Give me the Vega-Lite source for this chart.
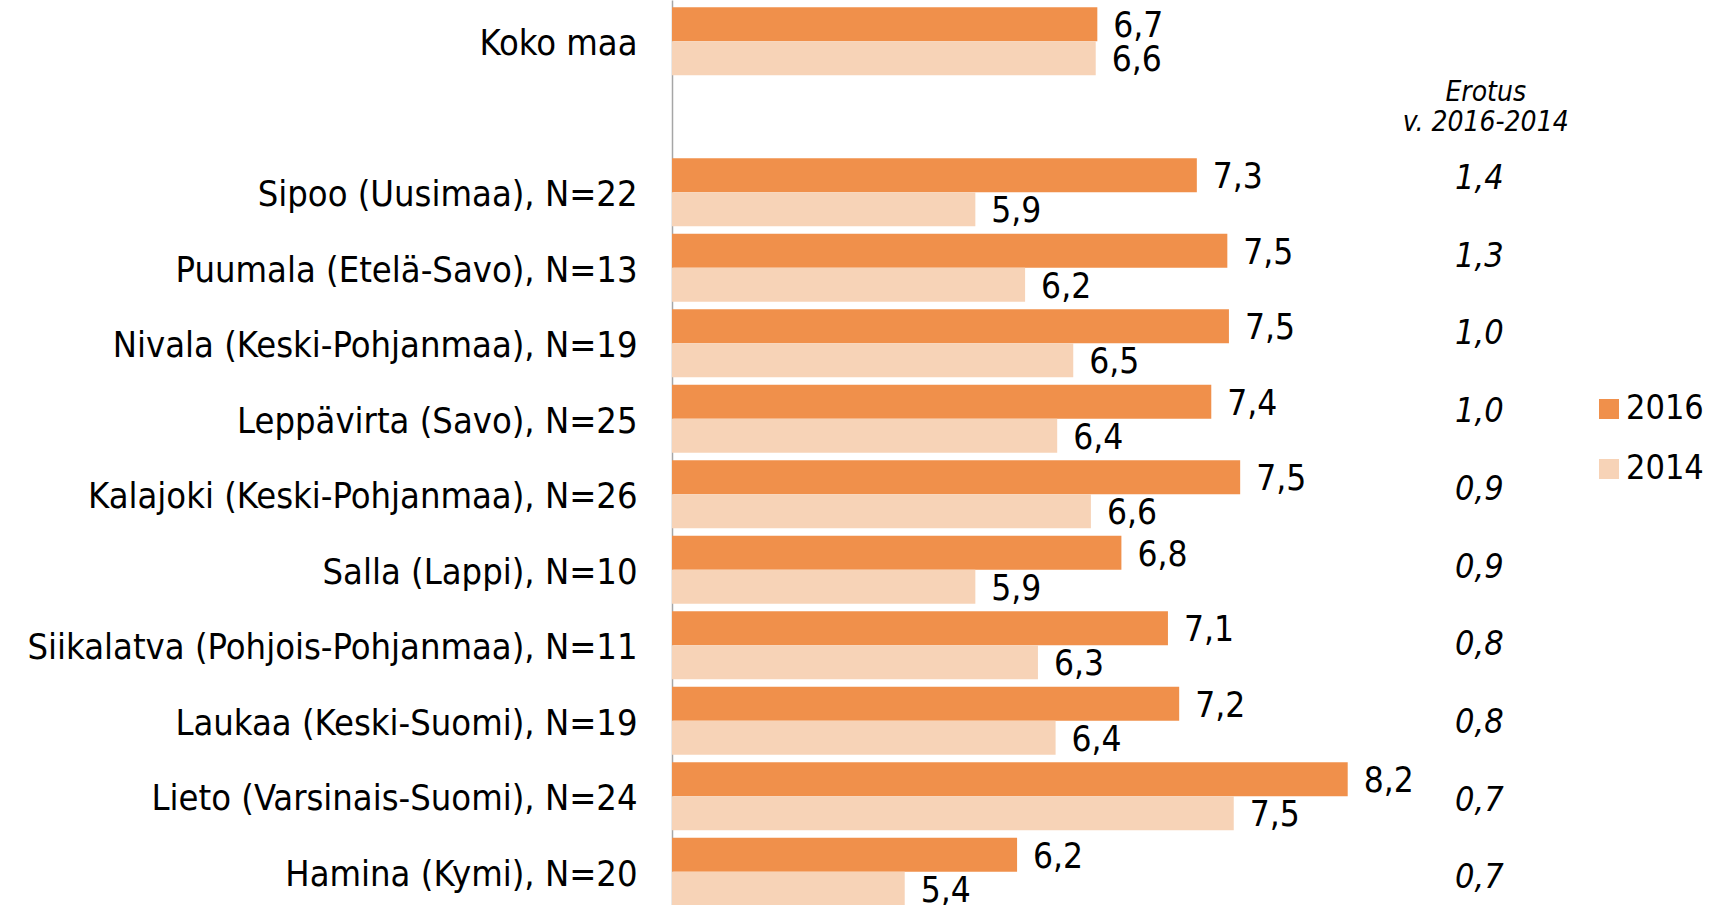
{
  "$schema": "https://vega.github.io/schema/vega-lite/v6.json",
  "width": 963,
  "height": 913,
  "autosize": {"type": "none"},
  "padding": {"left": 672, "top": 0, "right": 88, "bottom": 0},
  "background": "white",
  "config": {"view": {"stroke": null}, "font": "DejaVu Sans Condensed"},
  "datasets": {
    "bars": [
      {"name": "Koko maa", "year": "2016", "value": 6.65, "label": "6,7"},
      {"name": "Koko maa", "year": "2014", "value": 6.64, "label": "6,6"},
      {"name": "Sipoo (Uusimaa), N=22", "year": "2016", "value": 7.27, "label": "7,3"},
      {"name": "Sipoo (Uusimaa), N=22", "year": "2014", "value": 5.89, "label": "5,9"},
      {"name": "Puumala (Etelä-Savo), N=13", "year": "2016", "value": 7.46, "label": "7,5"},
      {"name": "Puumala (Etelä-Savo), N=13", "year": "2014", "value": 6.2, "label": "6,2"},
      {"name": "Nivala (Keski-Pohjanmaa), N=19", "year": "2016", "value": 7.47, "label": "7,5"},
      {"name": "Nivala (Keski-Pohjanmaa), N=19", "year": "2014", "value": 6.5, "label": "6,5"},
      {"name": "Leppävirta (Savo), N=25", "year": "2016", "value": 7.36, "label": "7,4"},
      {"name": "Leppävirta (Savo), N=25", "year": "2014", "value": 6.4, "label": "6,4"},
      {"name": "Kalajoki (Keski-Pohjanmaa), N=26", "year": "2016", "value": 7.54, "label": "7,5"},
      {"name": "Kalajoki (Keski-Pohjanmaa), N=26", "year": "2014", "value": 6.61, "label": "6,6"},
      {"name": "Salla (Lappi), N=10", "year": "2016", "value": 6.8, "label": "6,8"},
      {"name": "Salla (Lappi), N=10", "year": "2014", "value": 5.89, "label": "5,9"},
      {"name": "Siikalatva (Pohjois-Pohjanmaa), N=11", "year": "2016", "value": 7.09, "label": "7,1"},
      {"name": "Siikalatva (Pohjois-Pohjanmaa), N=11", "year": "2014", "value": 6.28, "label": "6,3"},
      {"name": "Laukaa (Keski-Suomi), N=19", "year": "2016", "value": 7.16, "label": "7,2"},
      {"name": "Laukaa (Keski-Suomi), N=19", "year": "2014", "value": 6.39, "label": "6,4"},
      {"name": "Lieto (Varsinais-Suomi), N=24", "year": "2016", "value": 8.21, "label": "8,2"},
      {"name": "Lieto (Varsinais-Suomi), N=24", "year": "2014", "value": 7.5, "label": "7,5"},
      {"name": "Hamina (Kymi), N=20", "year": "2016", "value": 6.15, "label": "6,2"},
      {"name": "Hamina (Kymi), N=20", "year": "2014", "value": 5.45, "label": "5,4"}
    ],
    "erotus": [
      {"name": "Sipoo (Uusimaa), N=22", "diff": "1,4"},
      {"name": "Puumala (Etelä-Savo), N=13", "diff": "1,3"},
      {"name": "Nivala (Keski-Pohjanmaa), N=19", "diff": "1,0"},
      {"name": "Leppävirta (Savo), N=25", "diff": "1,0"},
      {"name": "Kalajoki (Keski-Pohjanmaa), N=26", "diff": "0,9"},
      {"name": "Salla (Lappi), N=10", "diff": "0,9"},
      {"name": "Siikalatva (Pohjois-Pohjanmaa), N=11", "diff": "0,8"},
      {"name": "Laukaa (Keski-Suomi), N=19", "diff": "0,8"},
      {"name": "Lieto (Varsinais-Suomi), N=24", "diff": "0,7"},
      {"name": "Hamina (Kymi), N=20", "diff": "0,7"}
    ],
    "erotusTitle": [
      {"name": " ", "title": "Erotus\nv. 2016-2014"}
    ]
  },
  "layer": [
    {
      "data": {"name": "bars"},
      "encoding": {
        "y": {
          "field": "name",
          "type": "nominal",
          "scale": {
            "domain": ["Koko maa", " ", "Sipoo (Uusimaa), N=22", "Puumala (Etelä-Savo), N=13", "Nivala (Keski-Pohjanmaa), N=19", "Leppävirta (Savo), N=25", "Kalajoki (Keski-Pohjanmaa), N=26", "Salla (Lappi), N=10", "Siikalatva (Pohjois-Pohjanmaa), N=11", "Laukaa (Keski-Suomi), N=19", "Lieto (Varsinais-Suomi), N=24", "Hamina (Kymi), N=20"],
            "paddingInner": 0.1,
            "paddingOuter": 0.097
          },
          "axis": {
            "title": null,
            "domain": true,
            "domainColor": "#a6a6a6",
            "domainWidth": 1.5,
            "ticks": false,
            "grid": false,
            "labelFontSize": 36,
            "labelPadding": 35,
            "labelOffset": 3,
            "labelColor": "#000000",
            "labelLimit": 1000
          }
        },
        "yOffset": {"field": "year", "type": "nominal", "sort": ["2016", "2014"]},
        "x": {
          "field": "value",
          "type": "quantitative",
          "scale": {"domain": [4, 10], "zero": false, "nice": false},
          "axis": null
        }
      },
      "layer": [
        {
          "mark": {"type": "bar"},
          "encoding": {
            "x2": {"datum": 4},
            "color": {
              "field": "year",
              "type": "nominal",
              "scale": {"domain": ["2016", "2014"], "range": ["#F0904B", "#F7D3B7"]},
              "legend": {
                "orient": "none",
                "legendX": 920,
                "legendY": 392,
                "title": null,
                "symbolType": "square",
                "symbolSize": 400,
                "symbolStrokeWidth": 0,
                "labelFontSize": 34,
                "labelOffset": 0,
                "rowPadding": 26,
                "labelColor": "#000000"
              }
            }
          }
        },
        {
          "mark": {"type": "text", "align": "left", "baseline": "middle", "dx": 16, "dy": 2, "fontSize": 35, "color": "#000000"},
          "encoding": {"text": {"field": "label", "type": "nominal"}}
        }
      ]
    },
    {
      "encoding": {
        "y": {
          "field": "name",
          "type": "nominal",
          "scale": {
            "type": "point",
            "domain": ["Koko maa", " ", "Sipoo (Uusimaa), N=22", "Puumala (Etelä-Savo), N=13", "Nivala (Keski-Pohjanmaa), N=19", "Leppävirta (Savo), N=25", "Kalajoki (Keski-Pohjanmaa), N=26", "Salla (Lappi), N=10", "Siikalatva (Pohjois-Pohjanmaa), N=11", "Laukaa (Keski-Suomi), N=19", "Lieto (Varsinais-Suomi), N=24", "Hamina (Kymi), N=20"],
            "padding": 0.375,
            "align": 0.405
          },
          "axis": null
        }
      },
      "layer": [
        {
          "data": {"name": "erotus"},
          "mark": {"type": "text", "align": "center", "baseline": "middle", "fontSize": 34, "fontStyle": "italic", "color": "#000000"},
          "encoding": {
            "x": {"datum": 9.03, "type": "quantitative"},
            "text": {"field": "diff", "type": "nominal"}
          }
        },
        {
          "data": {"name": "erotusTitle"},
          "mark": {"type": "text", "align": "center", "baseline": "alphabetic", "fontSize": 28, "fontStyle": "italic", "lineBreak": "\n", "lineHeight": 30, "color": "#000000"},
          "encoding": {
            "x": {"datum": 9.07, "type": "quantitative"},
            "text": {"field": "title", "type": "nominal"}
          }
        }
      ]
    }
  ],
  "resolve": {"scale": {"y": "independent"}}
}
